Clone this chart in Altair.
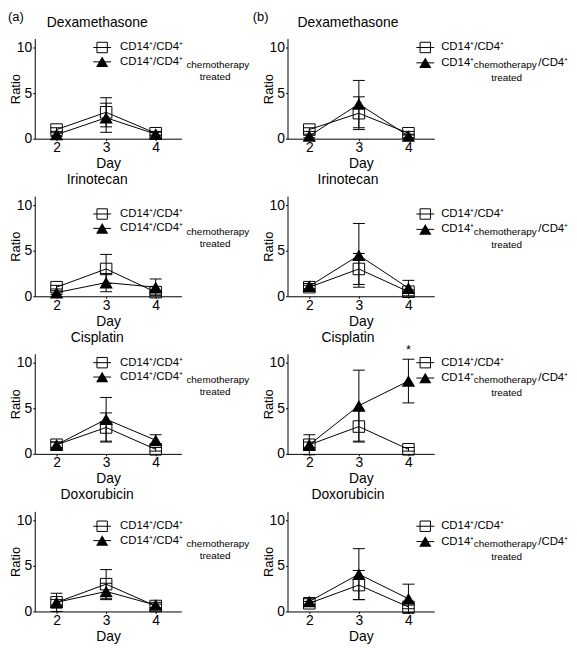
import altair as alt
import pandas as pd

# ---------------- data ----------------
DAYS = [2, 3, 4]
DRUGS = ["Dexamethasone", "Irinotecan", "Cisplatin", "Doxorubicin"]

# (a) CD14+/CD4+ (open squares) and CD14+/CD4+ chemotherapy treated (filled triangles)
A_CTRL = {"Dexamethasone": [1.0, 2.9, 0.6], "Irinotecan": [1.0, 3.0, 0.45],
          "Cisplatin": [1.0, 2.9, 0.5], "Doxorubicin": [1.0, 3.0, 0.6]}
A_CTRL_ERR = {"Dexamethasone": [0.2, 1.6, 0.2], "Irinotecan": [0.2, 1.6, 0.2],
              "Cisplatin": [0.3, 1.6, 0.2], "Doxorubicin": [0.3, 1.6, 0.2]}
A_TRT = {"Dexamethasone": [0.45, 2.3, 0.5], "Irinotecan": [0.4, 1.5, 1.0],
         "Cisplatin": [1.0, 3.8, 1.5], "Doxorubicin": [1.0, 2.2, 0.7]}
A_TRT_ERR = {"Dexamethasone": [0.2, 1.6, 0.2], "Irinotecan": [0.2, 1.0, 0.9],
             "Cisplatin": [0.3, 2.4, 0.6], "Doxorubicin": [1.0, 0.9, 0.3]}

# (b)
B_CTRL = {"Dexamethasone": [1.0, 2.8, 0.6], "Irinotecan": [1.0, 3.0, 0.5],
          "Cisplatin": [1.0, 3.0, 0.5], "Doxorubicin": [0.9, 2.9, 0.5]}
B_CTRL_ERR = {"Dexamethasone": [0.2, 1.8, 0.2], "Irinotecan": [0.2, 1.7, 0.2],
              "Cisplatin": [0.3, 1.7, 0.2], "Doxorubicin": [0.2, 1.6, 0.2]}
B_TRT = {"Dexamethasone": [0.3, 3.8, 0.3], "Irinotecan": [1.1, 4.5, 0.9],
         "Cisplatin": [1.0, 5.3, 8.0], "Doxorubicin": [1.1, 4.1, 1.4]}
B_TRT_ERR = {"Dexamethasone": [0.2, 2.6, 0.2], "Irinotecan": [0.3, 3.5, 0.85],
             "Cisplatin": [1.1, 3.9, 2.4], "Doxorubicin": [0.3, 2.8, 1.6]}

# significance marker: (panel, drug) -> day
STARS = {("b", "Cisplatin"): 4}

Y_TICKS = [0, 5, 10]
CTRL_LABEL = "CD14\u207a/CD4\u207a"
TRT_PREFIX = "CD14\u207a"
TRT_SUFFIX = "/CD4\u207a"
SUB1 = "chemotherapy"
SUB2 = "treated"

# ---------------- layout / style ----------------
FONT = "Liberation Sans"
W, H = 148, 101
XDOM = [1.56, 4.52]
YDOM = [0, 11]
CAP = 0.12
LEG_Y = [9, 18, 9, 15]
ONE = pd.DataFrame({"k": [0]})


def text(s, x, y, size, align="left", baseline="middle"):
    return alt.Chart(ONE).mark_text(
        text=s, font=FONT, fontSize=size, align=align, baseline=baseline, color="black"
    ).encode(x=alt.value(x), y=alt.value(y))


def legend_symbol(shape, filled, cx, cy, size):
    line = alt.Chart(ONE).mark_rule(color="black", strokeWidth=1).encode(
        x=alt.value(cx - 9), x2=alt.value(cx + 9), y=alt.value(cy))
    pt = alt.Chart(ONE).mark_point(
        shape=shape, filled=filled, size=size, color="black", opacity=1, strokeWidth=1
    ).encode(x=alt.value(cx), y=alt.value(cy))
    return [line, pt]


XS = alt.Scale(domain=XDOM, nice=False, zero=False)
YS = alt.Scale(domain=YDOM, nice=False)
XAXIS = alt.Axis(values=DAYS, title="Day", format="d", grid=False,
                 labelFont=FONT, titleFont=FONT, labelFontSize=14, titleFontSize=14,
                 titleFontWeight="normal", tickSize=2, labelPadding=0,
                 titleBaseline="top", titleY=18,
                 domainColor="black", tickColor="black", labelColor="black",
                 titleColor="black", labelFlush=False)
YAXIS = alt.Axis(values=Y_TICKS, title="Ratio", format="d", grid=False,
                 labelFont=FONT, titleFont=FONT, labelFontSize=14, titleFontSize=13,
                 titleFontWeight="normal", tickSize=2, labelPadding=1,
                 titleX=-19, titleBaseline="middle",
                 domainColor="black", tickColor="black", labelColor="black",
                 titleColor="black", labelFlush=False)


def X(field):
    return alt.X(field, type="quantitative", scale=XS, axis=XAXIS)


def Y(field):
    return alt.Y(field, type="quantitative", scale=YS, axis=YAXIS)


def make_panel(side, row, drug, ctrl, ctrl_err, trt, trt_err):
    df = pd.DataFrame({
        "day": DAYS * 2,
        "value": ctrl + trt,
        "err": ctrl_err + trt_err,
        "series": ["ctrl"] * 3 + ["trt"] * 3,
    })
    base = alt.Chart(df).transform_calculate(
        lo="datum.value - datum.err", hi="datum.value + datum.err")

    err = base.mark_rule(color="black", strokeWidth=1).encode(
        x=X("day"), y=Y("lo"), y2="hi:Q")
    caps = base.transform_fold(["lo", "hi"], as_=["end", "cap"]).transform_calculate(
        xa=f"datum.day - {CAP}", xb=f"datum.day + {CAP}"
    ).mark_rule(color="black", strokeWidth=1).encode(
        x=X("xa"), x2="xb:Q", y=Y("cap"))
    lines = base.mark_line(color="black", strokeWidth=1).encode(
        x=X("day"), y=Y("value"), detail="series:N")
    sq = base.transform_filter("datum.series == 'ctrl'").mark_point(
        shape="square", size=135, filled=False, color="black", opacity=1, strokeWidth=1
    ).encode(x=X("day"), y=Y("value"))
    tri = base.transform_filter("datum.series == 'trt'").mark_point(
        shape="triangle-up", size=180, filled=True, color="black", opacity=1
    ).encode(x=X("day"), y=Y("value"))

    layers = [err, caps, lines, sq, tri]

    star_day = STARS.get((side, drug))
    if star_day is not None:
        star = base.transform_filter(
            f"datum.series == 'trt' && datum.day == {star_day}"
        ).mark_text(text="*", font=FONT, fontSize=13, dy=-9, color="black").encode(
            x=X("day"), y=Y("hi"))
        layers.append(star)

    ly = LEG_Y[row]
    if side == "a":
        layers.append(text(drug, 63, -16, 14, align="center"))
        layers += legend_symbol("square", False, 68, ly, 110)
        layers += legend_symbol("triangle-up", True, 68, ly + 14.5, 150)
        layers.append(text(CTRL_LABEL, 86, ly, 11.5))
        layers.append(text(CTRL_LABEL, 86, ly + 14.5, 11.5))
        layers.append(text(SUB1, 153, ly + 18, 10))
        layers.append(text(SUB2, 182, ly + 30, 10, align="center"))
        if row == 0:
            layers.append(text("(a)", -27, -22, 13))
    else:
        layers.append(text(drug, 61, -16, 14, align="center"))
        layers += legend_symbol("square", False, 139, ly, 110)
        layers += legend_symbol("triangle-up", True, 139, ly + 15.5, 150)
        layers.append(text(CTRL_LABEL, 155, ly, 11.5))
        layers.append(text(TRT_PREFIX, 155, ly + 15.5, 11.5))
        layers.append(text(SUB1, 188, ly + 18, 10))
        layers.append(text(TRT_SUFFIX, 253, ly + 15.5, 11.5))
        layers.append(text(SUB2, 221, ly + 31, 10, align="center"))
        if row == 0:
            layers.append(text("(b)", -35, -22, 13))

    return alt.layer(*layers).properties(width=W, height=H)


panels = []
for r, drug in enumerate(DRUGS):
    panels.append(make_panel("a", r, drug, A_CTRL[drug], A_CTRL_ERR[drug],
                             A_TRT[drug], A_TRT_ERR[drug]))
    panels.append(make_panel("b", r, drug, B_CTRL[drug], B_CTRL_ERR[drug],
                             B_TRT[drug], B_TRT_ERR[drug]))

chart = alt.concat(
    *panels, columns=2,
    spacing=alt.RowColnumber(row=58, column=107),
    bounds="flush",
).properties(
    padding={"left": 0, "top": 0, "right": 0, "bottom": 0}
).configure(font=FONT, background="white").configure_view(strokeWidth=0)

chart.save("out.html", embed_options={"renderer": "svg", "actions": False})
